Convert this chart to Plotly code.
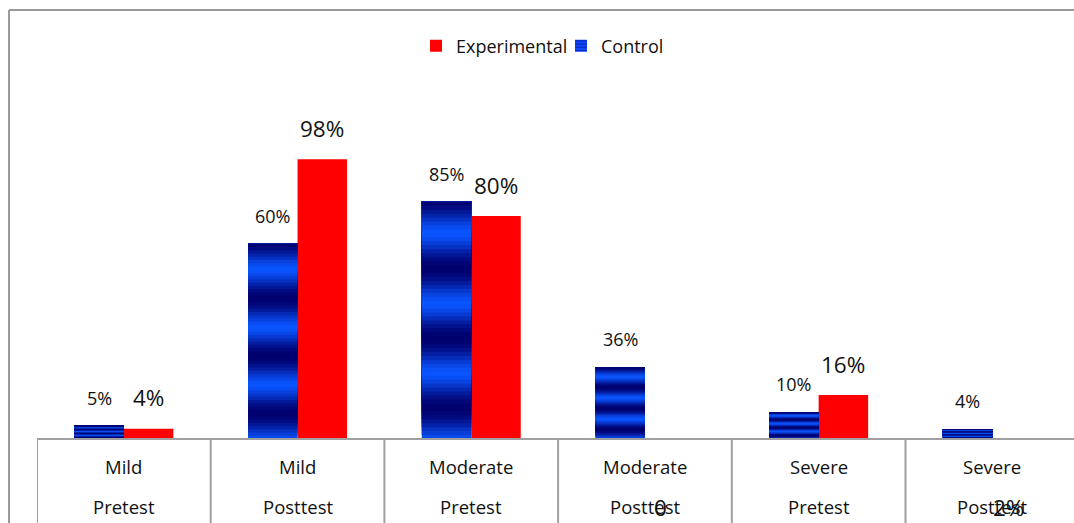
import plotly.graph_objects as go
import math

# ---- data ----
categories = ["Mild Pretest", "Mild Posttest", "Moderate Pretest",
              "Moderate Posttest", "Severe Pretest", "Severe Posttest"]
cat_line1 = ["Mild", "Mild", "Moderate", "Moderate", "Severe", "Severe"]
cat_line2 = ["Pretest", "Posttest", "Pretest", "Posttest", "Pretest", "Posttest"]

# drawn bar heights (as measured on the picture)
control_values = [4.6, 68.4, 83.1, 25.1, 9.4, 3.5]
experimental_values = [3.6, 98.0, 78.1, 0.0, 15.4, 0.0]

# printed data labels
control_labels = ["5%", "60%", "85%", "36%", "10%", "4%"]
experimental_labels = ["4%", "98%", "80%", "0", "16%", "2%"]

# ---- styling ----
FONT = "Open Sans"
TXT = "#111111"
GRID = "#A0A0A0"
RED = "#FF0000"
BAR_W = 0.285
ML, MT, MB = 37, 60, 84
W, H = 1074, 523
PW, PH = W - ML, H - MT - MB
PX_PER_UNIT = 2.854
YMAX = PH / PX_PER_UNIT
CAT_PX = 173.7
XMAX = -0.5 + PW / CAT_PX

DARK = (0, 0, 110)
BRIGHT = (10, 85, 255)


def band_color(f):
    t = math.cos(2 * math.pi * (f - 0.13) / 0.295)
    w = ((1 + t) / 2) ** 0.8
    c = [round(BRIGHT[i] * (1 - w) + DARK[i] * w) for i in range(3)]
    return "rgb(%d,%d,%d)" % tuple(c)


fig = go.Figure()

# Experimental (red)
fig.add_trace(go.Bar(
    x=categories, y=experimental_values, name="Experimental",
    offset=0, width=BAR_W, marker=dict(color=RED, line=dict(width=0)),
    hoverinfo="skip"))

# Control legend entry (striped blue)
fig.add_trace(go.Bar(
    x=categories, y=[None] * len(categories), name="Control",
    offset=-BAR_W, width=BAR_W,
    marker=dict(color="#1048ff", line=dict(width=0),
                pattern=dict(shape="-", fgcolor="#00108a", size=4, solidity=0.45)),
    hoverinfo="skip"))

# Control bars drawn as overlapping gradient bands (each band runs to the bar top,
# later bands cover the lower part so no seams appear)
N = 60
for k in range(N):
    fig.add_trace(go.Bar(
        x=categories,
        y=[v * (N - k) / N for v in control_values],
        base=[v * k / N for v in control_values],
        offset=-BAR_W, width=BAR_W,
        marker=dict(color=band_color((k + 0.5) / N), line=dict(width=0)),
        showlegend=False, hoverinfo="skip"))

annotations = []
for i, c in enumerate(categories):
    annotations.append(dict(x=c, y=control_values[i], xref="x", yref="y",
                            text=control_labels[i], showarrow=False,
                            xshift=-CAT_PX * BAR_W / 2, yshift=28, yanchor="middle",
                            font=dict(family=FONT, size=18, color=TXT)))
    if experimental_values[i] > 0:
        ys = 31
        xs = CAT_PX * BAR_W / 2
    else:
        ys = -68
        xs = CAT_PX * BAR_W / 2 - 9
    annotations.append(dict(x=c, y=experimental_values[i], xref="x", yref="y",
                            text=experimental_labels[i], showarrow=False,
                            xshift=xs, yshift=ys, yanchor="middle",
                            font=dict(family=FONT, size=22.5, color=TXT)))
    annotations.append(dict(x=c, y=0, xref="x", yref="paper",
                            text=cat_line1[i], showarrow=False,
                            yshift=-27, yanchor="middle",
                            font=dict(family=FONT, size=18.5, color=TXT)))
    annotations.append(dict(x=c, y=0, xref="x", yref="paper",
                            text=cat_line2[i], showarrow=False,
                            yshift=-67, yanchor="middle",
                            font=dict(family=FONT, size=18.5, color=TXT)))

shapes = []
# category table lines
for j in range(len(categories)):
    shapes.append(dict(type="line", xref="x", yref="paper",
                       x0=j - 0.5, x1=j - 0.5, y0=0, y1=-0.4,
                       line=dict(color=GRID, width=2)))
# baseline
shapes.append(dict(type="line", xref="paper", yref="paper", x0=0, x1=1.05,
                   y0=0, y1=0, line=dict(color=GRID, width=2)))
# outer chart border (left and top)
bx = (9 - ML) / PW
by = 1 + (MT - 10) / PH
shapes.append(dict(type="line", xref="paper", yref="paper", x0=bx, x1=bx,
                   y0=by, y1=-0.4, line=dict(color="#999999", width=2)))
shapes.append(dict(type="line", xref="paper", yref="paper", x0=bx, x1=1.05,
                   y0=by, y1=by, line=dict(color="#999999", width=2)))

fig.update_layout(
    width=W, height=H,
    margin=dict(l=ML, r=0, t=MT, b=MB, pad=0),
    paper_bgcolor="white", plot_bgcolor="white",
    barmode="overlay",
    font=dict(family=FONT, color=TXT),
    showlegend=True,
    legend=dict(orientation="h", x=(561 - ML) / PW, xanchor="center",
                y=1 + (MT - 46) / PH, yanchor="middle",
                font=dict(family=FONT, size=18, color=TXT),
                itemwidth=30, entrywidth=100, entrywidthmode="pixels",
                bgcolor="rgba(0,0,0,0)", traceorder="normal"),
    xaxis=dict(type="category", categoryorder="array", categoryarray=categories,
               range=[-0.5, XMAX], showticklabels=False, showgrid=False,
               zeroline=False, showline=False, fixedrange=True),
    yaxis=dict(range=[0, YMAX], showticklabels=False, showgrid=False,
               zeroline=False, showline=False, fixedrange=True),
    annotations=annotations,
    shapes=shapes,
)

fig.write_html("out.html", config={"displayModeBar": False},
               post_script="document.body.style.margin='0px';document.body.style.overflow='hidden';")
